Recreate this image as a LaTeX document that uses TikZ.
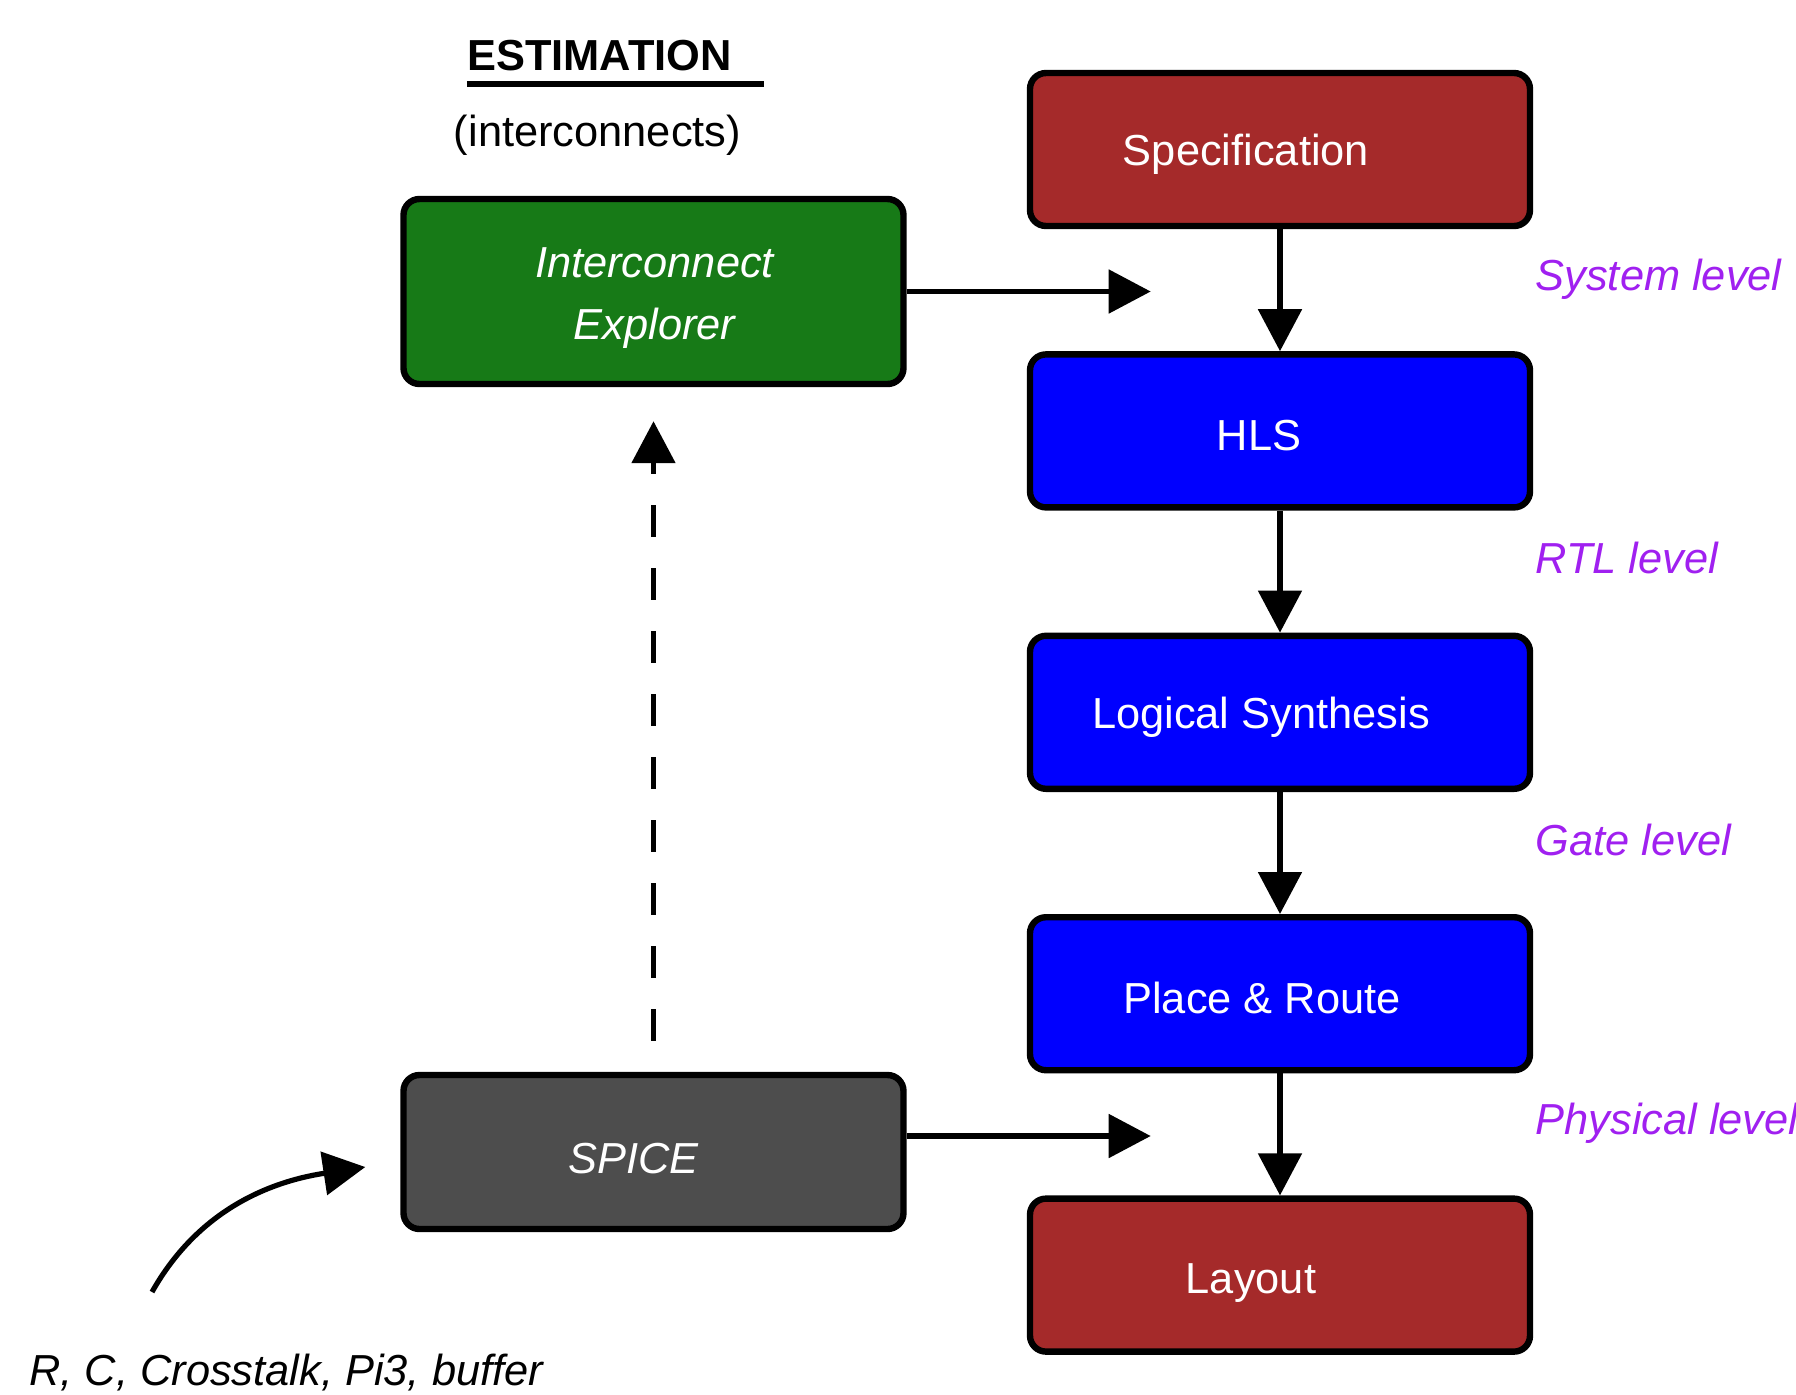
\documentclass[tikz,border=0pt]{standalone}
\usepackage{fontspec}
\setmainfont{Liberation Sans}
\usepackage{xcolor}
\usepackage{tikz}
\usetikzlibrary{arrows.meta}
\usetikzlibrary{positioning}
\definecolor{specred}{HTML}{A52A2A}
\definecolor{flowblue}{HTML}{0000FF}
\definecolor{estgreen}{HTML}{177A17}
\definecolor{spicegray}{HTML}{4D4D4D}
\definecolor{lvlpurple}{HTML}{A020F0}
\tikzset{
  stage/.style = {draw=black, line width=3.2pt, rounded corners=8pt, inner sep=0pt, minimum width=250pt, minimum height=76.5pt},
  redstage/.style = {stage, fill=specred},
  bluestage/.style = {stage, fill=flowblue},
  txt/.style = {text=white, inner sep=0pt, align=center, yshift=-2.3pt, font=\fontsize{21.7}{31}\selectfont},
  itxt/.style = {txt, font=\fontsize{21.7}{31}\selectfont\itshape},
  lvl/.style = {anchor=west, inner sep=0pt, text=lvlpurple, font=\fontsize{21.7}{26}\selectfont\itshape},
  flow/.style = {line width=2.6pt, -{Triangle[length=21pt,width=21.5pt]}}
}

\begin{document}
\begin{tikzpicture}[x=0.5pt, y=-0.5pt]
\useasboundingbox (0,0) rectangle (1796,1394);

% design flow
\node [redstage, label={[txt, xshift=-17pt]center:Specification}] (spec) at (1280,149.5) {};
\node [bluestage, below=61pt of spec, label={[txt, xshift=-10.5pt]center:HLS}] (hls) {};
\node [bluestage, below=61pt of hls, label={[txt, xshift=-9.5pt]center:Logical Synthesis}] (lsyn) {};
\node [bluestage, below=61pt of lsyn, label={[txt, xshift=-9pt]center:Place \& Route}] (pnr) {};
\node [redstage, below=61pt of pnr, label={[txt, xshift=-14.5pt, yshift=-1.5pt]center:Layout}] (layout) {};

\draw [flow] (spec) -- (hls);
\draw [flow] (hls) -- (lsyn);
\draw [flow] (lsyn) -- (pnr);
\draw [flow] (pnr) -- (layout);

\node [lvl] (lsys) at ([xshift=1pt,yshift=-25pt]spec.south east) {System level};
\node [lvl] (lrtl) at ([xshift=1pt,yshift=-23.5pt]hls.south east) {RTL level};
\node [lvl] (lgate) at ([xshift=1pt,yshift=-24pt]lsyn.south east) {Gate level};
\node [lvl] (lphys) at ([xshift=1pt,yshift=-25pt]pnr.south east) {Physical level};

% estimation side
\node [inner sep=0pt, font=\fontsize{21.7}{26}\selectfont\bfseries] (est) at (599.5,56) {ESTIMATION};
\draw [line width=3.2pt] ([yshift=-6pt]est.south west) -- ([xshift=16pt,yshift=-6pt]est.south east);
\node [inner sep=0pt, font=\fontsize{21.7}{26}\selectfont] (estsub) at (597.5,135) {(interconnects)};

\node [stage, fill=estgreen, minimum height=92.5pt, label={[itxt, xshift=0.5pt, yshift=-1.2pt]center:Interconnect\\Explorer}] (ie) at (653.5,291.5) {};
\node [stage, fill=spicegray, minimum height=77pt, label={[itxt, xshift=-10pt, yshift=-1.2pt]center:SPICE}] (spice) at (653.5,1152) {};

\coordinate (iein) at ([xshift=122pt]ie.east);
\coordinate (spiceout) at ([yshift=8pt]spice.east);
\coordinate (spicein) at ([xshift=122pt]spiceout);
\draw [flow] (ie.east) -- (iein);
\draw [flow] (spiceout) -- (spicein);
\draw [flow, dash pattern=on 16pt off 15.5pt, shorten <=15.5pt, shorten >=17pt] (spice) -- (ie);

\node [anchor=west, inner sep=0pt, font=\fontsize{21.7}{26}\selectfont\itshape] (rc) at (29,1373) {R, C, Crosstalk, Pi3, buffer};
\coordinate (rcfrom) at (152,1292);
\coordinate (rcto) at ([xshift=-17.5pt,yshift=-7.5pt]spice.west);
\draw [flow] (rcfrom) .. controls (197,1212) and (267,1182) .. (rcto);
\end{tikzpicture}
\end{document}
